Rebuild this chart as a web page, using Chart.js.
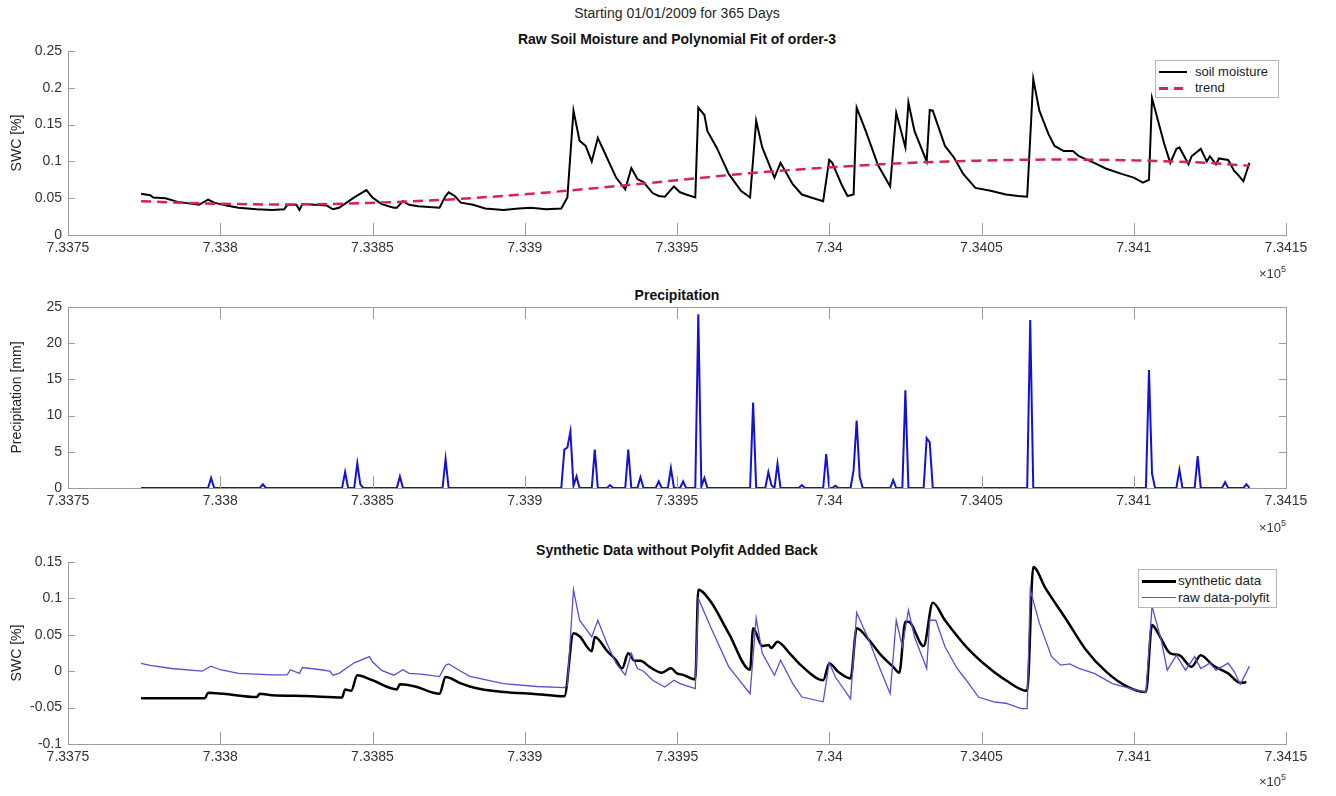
<!DOCTYPE html>
<html>
<head>
<meta charset="utf-8">
<title>Soil moisture 2009</title>
<script src="https://cdn.jsdelivr.net/npm/chart.js@4.4.1/dist/chart.umd.min.js"></script>
<style>
  html, body { margin: 0; padding: 0; background: #fff; }
  body { width: 1336px; height: 796px; position: relative; overflow: hidden;
         font-family: 'Liberation Sans', Arial, Helvetica, sans-serif; color: #262626; }
  canvas { position: absolute; left: 0; }
  .ttl { position: absolute; left: 68px; width: 1218px; text-align: center; font-size: 14px; line-height: 16px; }
  .ttl.b { font-weight: bold; color: #111; }
  .expo { position: absolute; right: 50px; font-size: 13px; line-height: 16px; color: #333; }
  .expo sup { font-size: 9px; vertical-align: 6px; line-height: 0; }
  .legend { position: absolute; box-sizing: border-box; background: #fff; border: 1px solid #b4b4b4; color: #222; }
  .legend .row { position: absolute; height: 16px; line-height: 16px; white-space: nowrap; }
  .legend .smp { position: absolute; top: 7px; }
  .legend .txt { position: absolute; top: 0; }
</style>
</head>
<body>

<div class="ttl" style="top:5px">Starting 01/01/2009 for 365 Days</div>
<div class="ttl b" style="top:31px">Raw Soil Moisture and Polynomial Fit of order-3</div>
<div class="ttl b" style="top:287px">Precipitation</div>
<div class="ttl b" style="top:542px">Synthetic Data without Polyfit Added Back</div>

<canvas id="c1" width="1336" height="262" style="top:0px"></canvas>
<canvas id="c2" width="1336" height="258" style="top:262px"></canvas>
<canvas id="c3" width="1336" height="276" style="top:520px"></canvas>

<div class="expo" style="top:266px">&times;10<sup>5</sup></div>
<div class="expo" style="top:520px">&times;10<sup>5</sup></div>
<div class="expo" style="top:774px">&times;10<sup>5</sup></div>

<div class="legend" style="left:1155px; top:60px; width:124px; height:38px; font-size:13px">
  <div class="row" style="top:3px; left:0">
    <span class="smp" style="left:3px; width:28px; height:2px; background:#000"></span>
    <span class="txt" style="left:39px">soil moisture</span>
  </div>
  <div class="row" style="top:19px; left:0">
    <span class="smp" style="left:3px; width:28px; height:2.5px; background:repeating-linear-gradient(to right, #d9234f 0 9px, transparent 9px 15px)"></span>
    <span class="txt" style="left:39px">trend</span>
  </div>
</div>

<div class="legend" style="left:1138px; top:569px; width:139px; height:39px; font-size:13.5px">
  <div class="row" style="top:3px; left:0">
    <span class="smp" style="left:3px; width:34px; height:2.5px; background:#000"></span>
    <span class="txt" style="left:39px">synthetic data</span>
  </div>
  <div class="row" style="top:20px; left:0">
    <span class="smp" style="left:3px; width:34px; height:1.3px; background:#5a4fd1"></span>
    <span class="txt" style="left:39px">raw data-polyfit</span>
  </div>
</div>

<script>
// datenum of 01/01/2009, days below are counted from it
const START = 733774;

const xTickVals = [733750, 733800, 733850, 733900, 733950, 734000, 734050, 734100, 734150];
const swcTicks = [0, 0.05, 0.1, 0.15, 0.2, 0.25];
const precipTicks = [0, 5, 10, 15, 20, 25];
const synthTicks = [-0.1, -0.05, 0, 0.05, 0.1, 0.15];

// [day, SWC]
const soilMoisture = [
  [0,0.056],[3,0.054],[4,0.051],[8,0.050],[12,0.045],[19,0.041],[22,0.048],[24,0.044],[28,0.040],
  [32,0.037],[38,0.035],[43,0.034],[47,0.035],[48,0.041],[51,0.041],[52,0.034],[53,0.042],[57,0.041],
  [61,0.040],[63,0.035],[65,0.037],[70,0.051],[74,0.061],[76,0.051],[79,0.042],[83,0.037],[84,0.037],
  [86,0.046],[88,0.041],[91,0.039],[98,0.037],[100,0.053],[101,0.058],[103,0.053],[105,0.044],[109,0.041],
  [113,0.036],[119,0.034],[124,0.036],[128,0.037],[133,0.035],[138,0.036],[140,0.051],[142,0.169],
  [144,0.128],[146,0.121],[148,0.100],[150,0.132],[153,0.105],[156,0.078],[159,0.062],[161,0.091],
  [163,0.076],[165,0.072],[168,0.057],[170,0.053],[172,0.052],[175,0.066],[177,0.058],[179,0.055],
  [182,0.051],[183,0.173],[185,0.163],[186,0.141],[189,0.119],[193,0.083],[197,0.060],[200,0.051],
  [202,0.155],[204,0.119],[208,0.078],[210,0.098],[214,0.069],[217,0.055],[220,0.051],[224,0.046],
  [226,0.102],[227,0.098],[230,0.069],[232,0.053],[234,0.055],[235,0.173],[238,0.141],[242,0.095],
  [246,0.066],[248,0.166],[251,0.119],[252,0.180],[254,0.141],[258,0.100],[259,0.170],[260,0.169],
  [264,0.121],[267,0.105],[270,0.083],[274,0.064],[279,0.060],[284,0.055],[288,0.053],[291,0.052],
  [293,0.212],[295,0.169],[298,0.137],[300,0.121],[303,0.114],[306,0.114],[308,0.107],[313,0.098],
  [317,0.090],[322,0.083],[326,0.078],[329,0.071],[331,0.075],[332,0.186],[334,0.155],[336,0.124],
  [338,0.098],[340,0.117],[341,0.119],[344,0.096],[345,0.107],[348,0.117],[350,0.100],[351,0.107],
  [353,0.096],[354,0.104],[357,0.102],[359,0.087],[360,0.083],[362,0.073],[364,0.098]
];

// [day, SWC] order-3 fit
const trend = [
  [0,0.046],[20,0.043],[45,0.0415],[75,0.0435],[100,0.048],[125,0.055],[150,0.064],[175,0.074],
  [200,0.084],[225,0.0915],[250,0.0975],[275,0.101],[300,0.1025],[325,0.1015],[350,0.098],[364,0.094]
];

// [day, mm]
const precip = [
  [0,0],[22,0],[23,1.4],[24,0],[39,0],[40,0.5],[41,0],[66,0],[67,2.2],[68,0],[70,0],[71,3.4],[72,0.5],[73,0],
  [84,0],[85,1.6],[86,0],[99,0],[100,4.0],[101,0],[138,0],[139,5.3],[140,5.6],[141,7.8],[142,0.3],[143,1.6],
  [144,0],[148,0],[149,5.3],[150,0],[153,0],[154,0.4],[155,0],[159,0],[160,5.3],[161,0],[163,0],[164,1.5],
  [165,0],[169,0],[170,0.9],[171,0],[173,0],[174,2.75],[175,0],[177,0],[178,0.9],[179,0],[182,0],[183,24.0],
  [184,0.2],[185,1.4],[186,0],[200,0],[201,11.8],[202,0],[205,0],[206,2.2],[207,0.4],[208,0],[209,3.35],
  [210,0],[216,0],[217,0.4],[218,0],[224,0],[225,4.7],[226,0],[227,0],[228,0.3],[229,0],[233,0],[234,2.5],
  [235,9.3],[236,1.5],[237,0],[246,0],[247,1.1],[248,0],[250,0],[251,13.5],[252,0],[257,0],[258,6.9],
  [259,6.3],[260,0],[291,0],[292,23.2],[293,0],[330,0],[331,16.3],[332,2.0],[333,0],[340,0],[341,2.5],
  [342,0],[346,0],[347,4.4],[348,0],[355,0],[356,0.8],[357,0],[362,0],[363,0.5],[364,0]
];

// [day, SWC]
const synthetic = [
  [0,-0.037],[21,-0.037],[22,-0.0295],[27,-0.031],[38,-0.0355],[39,-0.031],[43,-0.033],[54,-0.034],
  [66,-0.036],[67,-0.025],[69,-0.027],[71,-0.0055],[76,-0.0125],[84,-0.025],[85,-0.018],[90,-0.021],
  [98,-0.031],[100,-0.008],[105,-0.0167],[108,-0.021],[111,-0.024],[119,-0.0285],[130,-0.0315],
  [139,-0.0345],[142,0.052],[144,0.048],[148,0.0275],[149,0.047],[153,0.028],[156,0.015],[158,0.004],
  [160,0.0245],[162,0.0145],[164,0.0145],[167,0.006],[171,-0.002],[174,0.004],[176,-0.003],[178,-0.005],
  [182,-0.0115],[183,0.112],[187,0.096],[193,0.052],[200,0.002],[201,0.059],[204,0.0345],[206,0.036],
  [207,0.032],[209,0.0405],[213,0.0245],[217,0.007],[224,-0.0125],[226,0.0105],[229,-0.001],[233,-0.01],
  [235,0.059],[239,0.043],[243,0.022],[247,0.006],[249,-0.002],[251,0.068],[252,0.068],[257,0.0345],
  [260,0.094],[264,0.07],[271,0.0335],[278,0.006],[284,-0.0125],[291,-0.027],[293,0.143],[297,0.114],
  [304,0.07],[310,0.031],[317,-0.001],[324,-0.0215],[330,-0.0285],[332,0.0635],[334,0.052],[338,0.0245],
  [341,0.022],[345,0.006],[348,0.022],[352,0.008],[357,-0.003],[361,-0.016],[363,-0.015]
];

// [day, SWC] raw minus polyfit
const rawMinusFit = [
  [0,0.0106],[3,0.008],[10,0.0037],[20,0],[23,0.007],[26,0.002],[32,-0.003],[43,-0.005],[48,-0.005],
  [49,0.002],[52,-0.003],[53,0.005],[59,0.002],[62,0],[63,-0.0055],[65,-0.003],[70,0.0115],[75,0.02],
  [76,0.013],[79,0.001],[83,-0.0055],[86,0.002],[88,-0.003],[92,-0.004],[98,-0.0075],[100,0.0083],
  [101,0.01],[105,0],[108,-0.007],[119,-0.017],[130,-0.021],[139,-0.0225],[140,-0.019],[142,0.112],
  [144,0.07],[148,0.047],[150,0.07],[153,0.038],[156,0.0106],[159,-0.0055],[161,0.0245],[163,0.0037],
  [165,0],[168,-0.0124],[172,-0.0217],[175,-0.0124],[177,-0.017],[182,-0.024],[183,0.1],[187,0.061],
  [193,0.006],[200,-0.031],[202,0.073],[204,0.0245],[208,-0.0055],[210,0.015],[214,-0.017],[217,-0.0355],
  [224,-0.042],[226,0.0115],[228,-0.008],[233,-0.038],[235,0.0805],[239,0.043],[243,0],[246,-0.031],
  [248,0.07],[250,0.0336],[252,0.084],[254,0.047],[258,0.0037],[259,0.07],[261,0.07],[264,0.0336],
  [268,0.0037],[271,-0.0124],[275,-0.0355],[280,-0.042],[284,-0.044],[289,-0.0515],[291,-0.0515],
  [292,0.112],[295,0.066],[299,0.02],[302,0.0083],[305,0.01],[308,0.004],[313,-0.003],[319,-0.017],
  [326,-0.025],[330,-0.029],[332,0.089],[335,0.043],[337,0.0014],[340,0.022],[343,0.0014],[346,0.02],
  [348,0.0037],[351,0.011],[353,0.0014],[357,0.011],[359,-0.0005],[361,-0.018],[364,0.007]
];

const FONT = "'Liberation Sans', Arial, Helvetica, sans-serif";
const AXIS_GREY = '#9c9c9c';
const TEXT = '#333333';

const toXY = rows => rows.map(([d, v]) => ({ x: START + d, y: v }));

// MATLAB style: tick marks drawn inside the axes, optional full box
const innerTicks = {
    id: 'innerTicks',
    afterDatasetsDraw(chart, args, opts) {
        const { ctx, chartArea: a, scales: { x, y } } = chart;
        ctx.save();
        ctx.strokeStyle = AXIS_GREY;
        ctx.lineWidth = 1;
        ctx.beginPath();
        x.ticks.forEach(t => {
            const px = Math.round(x.getPixelForValue(t.value)) + 0.5;
            ctx.moveTo(px, a.bottom);
            ctx.lineTo(px, a.bottom - 12);
            if (opts.box) {
                ctx.moveTo(px, a.top);
                ctx.lineTo(px, a.top + 12);
            }
        });
        y.ticks.forEach(t => {
            const py = Math.round(y.getPixelForValue(t.value)) + 0.5;
            ctx.moveTo(a.left, py);
            ctx.lineTo(a.left + 7, py);
            if (opts.box) {
                ctx.moveTo(a.right, py);
                ctx.lineTo(a.right - 7, py);
            }
        });
        if (opts.box) {
            ctx.moveTo(a.left, Math.round(a.top) + 0.5);
            ctx.lineTo(a.right, Math.round(a.top) + 0.5);
            ctx.moveTo(Math.round(a.right) + 0.5, a.top);
            ctx.lineTo(Math.round(a.right) + 0.5, a.bottom);
        }
        ctx.stroke();
        ctx.restore();
    }
};

function makePanel(id, cfg) {
    const font = { family: FONT, size: 14 };
    return new Chart(document.getElementById(id), {
        type: 'line',
        data: { datasets: cfg.datasets },
        options: {
            responsive: false,
            animation: false,
            layout: { padding: { top: cfg.top, right: 50, left: 0, bottom: 0 } },
            elements: { point: { radius: 0 }, line: { tension: 0 } },
            plugins: {
                legend: { display: false },
                tooltip: { enabled: false },
                innerTicks: { box: !!cfg.box }
            },
            scales: {
                x: {
                    type: 'linear',
                    min: xTickVals[0],
                    max: xTickVals[xTickVals.length - 1],
                    afterBuildTicks: s => { s.ticks = xTickVals.map(v => ({ value: v })); },
                    afterFit: s => { s.height = cfg.xh; },
                    grid: { display: false, drawTicks: false },
                    border: { display: true, color: AXIS_GREY, width: 1 },
                    ticks: {
                        padding: 5, color: TEXT, font, autoSkip: false, maxRotation: 0,
                        callback: v => String(+(v / 1e5).toFixed(5))
                    }
                },
                y: {
                    min: cfg.yTicks[0],
                    max: cfg.yTicks[cfg.yTicks.length - 1],
                    afterBuildTicks: s => { s.ticks = cfg.yTicks.map(v => ({ value: v })); },
                    afterFit: s => { s.width = 68; },
                    grid: { display: false, drawTicks: false },
                    border: { display: true, color: AXIS_GREY, width: 1 },
                    ticks: {
                        padding: 6, color: TEXT, font,
                        callback: v => String(+v.toFixed(3))
                    },
                    title: {
                        display: true, text: cfg.yTitle, color: '#222',
                        font: { family: FONT, size: 14 },
                        padding: { top: 9, bottom: 0 }
                    }
                }
            }
        },
        plugins: [innerTicks]
    });
}

makePanel('c1', {
    top: 51, xh: 27, yTicks: swcTicks, yTitle: 'SWC [%]',
    datasets: [
        { label: 'soil moisture', data: toXY(soilMoisture), borderColor: '#000', borderWidth: 2, order: 1 },
        { label: 'trend', data: toXY(trend), borderColor: '#d9234f', borderWidth: 2.5,
          borderDash: [10, 6], cubicInterpolationMode: 'monotone', order: 0 }
    ]
});

makePanel('c2', {
    top: 45, xh: 32, yTicks: precipTicks, yTitle: 'Precipitation [mm]', box: true,
    datasets: [
        { label: 'precipitation', data: toXY(precip), borderColor: '#1212d2', borderWidth: 2 }
    ]
});

makePanel('c3', {
    top: 42, xh: 52, yTicks: synthTicks, yTitle: 'SWC [%]',
    datasets: [
        { label: 'synthetic data', data: toXY(synthetic), borderColor: '#000', borderWidth: 2.5,
          cubicInterpolationMode: 'monotone', order: 1 },
        { label: 'raw data-polyfit', data: toXY(rawMinusFit), borderColor: '#5a4fd1', borderWidth: 1.3, order: 0 }
    ]
});
</script>
</body>
</html>
